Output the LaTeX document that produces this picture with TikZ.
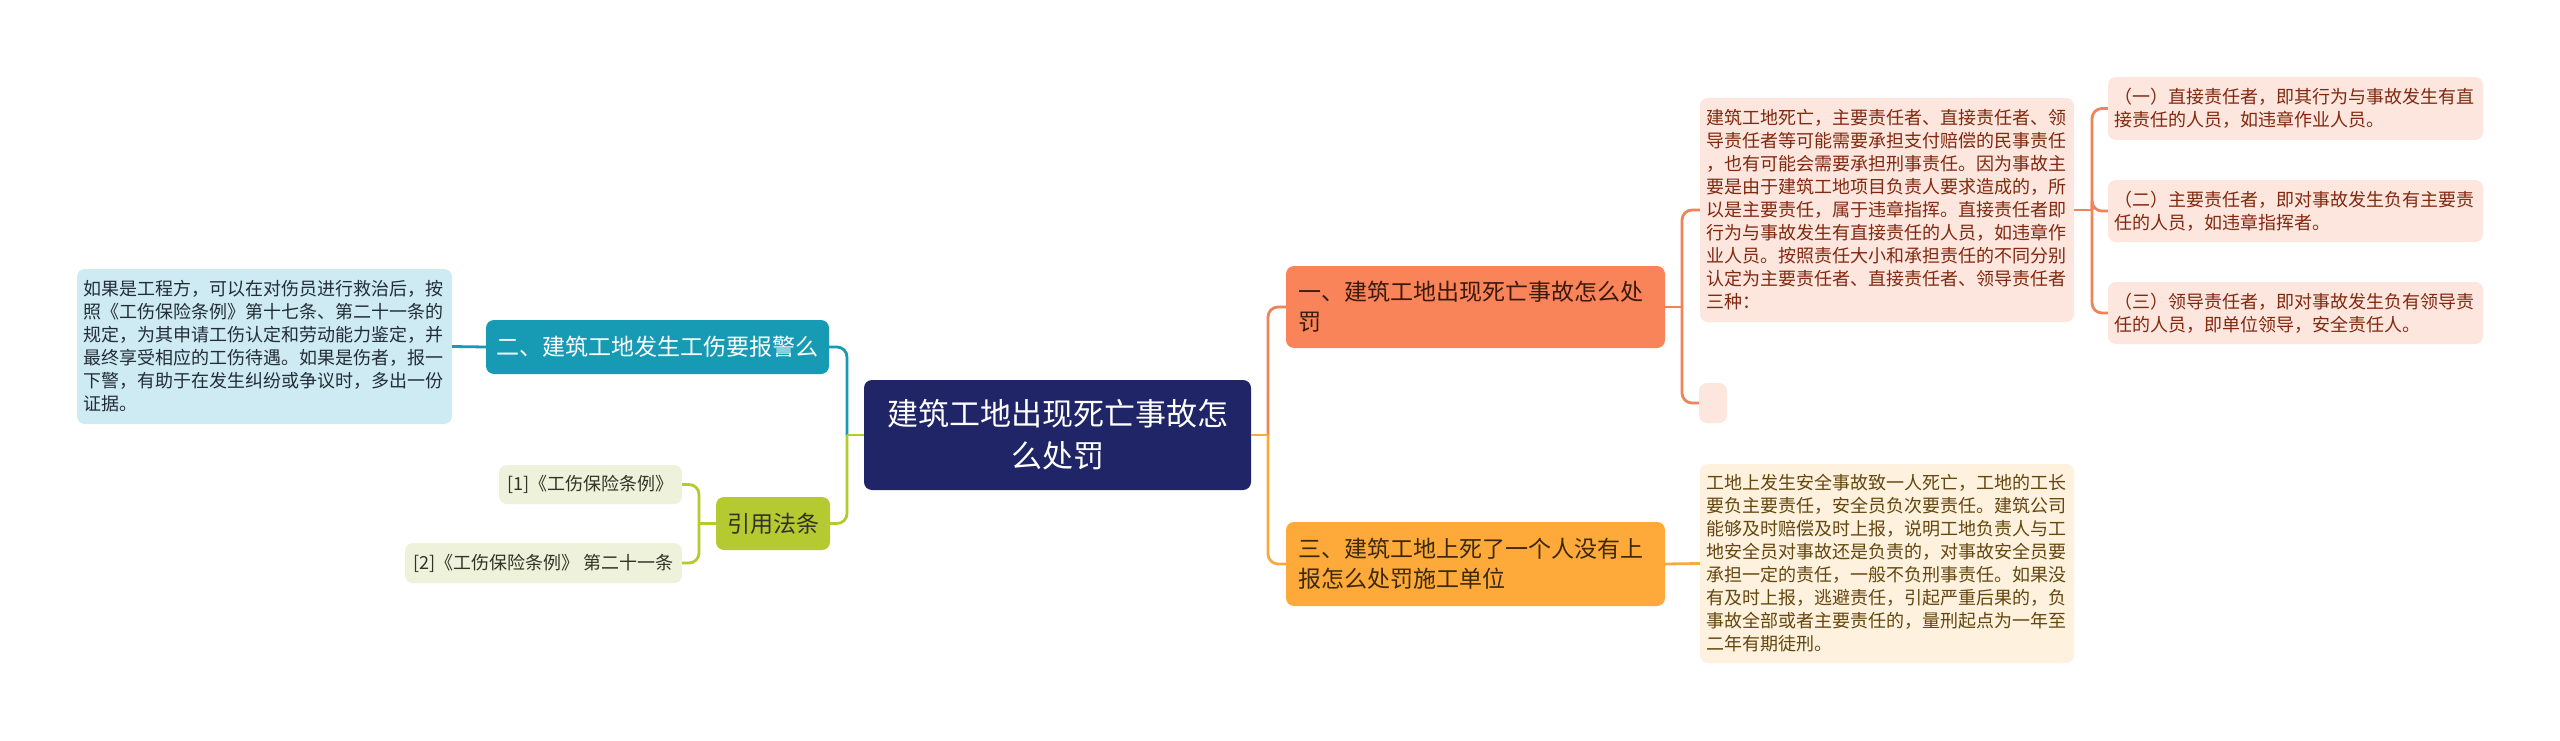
\documentclass[tikz,border=0pt]{standalone}
\usepackage{fontspec}
\newfontfamily\cjk{Noto Sans CJK SC}
\definecolor{navy}{RGB}{31,37,102}
\definecolor{teal2}{RGB}{23,155,181}
\definecolor{lblue}{RGB}{206,235,243}
\definecolor{lbluetxt}{RGB}{35,45,55}
\definecolor{gnode}{RGB}{181,201,48}
\definecolor{glight}{RGB}{238,242,218}
\definecolor{gtxt}{RGB}{50,50,40}
\definecolor{onode}{RGB}{249,132,90}
\definecolor{oline}{RGB}{240,131,88}
\definecolor{pinkbox}{RGB}{252,230,222}
\definecolor{pinktxt}{RGB}{130,40,15}
\definecolor{ynode}{RGB}{254,170,58}
\definecolor{yline}{RGB}{248,170,63}
\definecolor{creambox}{RGB}{254,241,222}
\definecolor{creamtxt}{RGB}{100,70,15}
\definecolor{otxt}{RGB}{60,25,10}
\definecolor{ytxt}{RGB}{60,40,10}
\begin{document}
\begin{tikzpicture}[x=1pt,y=-1pt,
  base/.style={rounded corners=8pt, inner sep=0pt, draw=none},
  smalltxt/.style={font={\cjk\fontsize{18}{23}\selectfont}},
  midtxt/.style={font={\cjk\fontsize{23}{30}\selectfont}},
  conn/.style={line width=2.8pt, rounded corners=10pt},
  tealc/.style={conn, draw=teal2},
  greenc/.style={conn, draw=gnode},
  orangec/.style={conn, draw=oline},
  yellowc/.style={conn, draw=yline}
]
\useasboundingbox (0,0) rectangle (2560,741);
\fill[white] (0,0) rectangle (2560,741);

% central
\node[base, fill=navy, text=white, minimum width=387pt, minimum height=110pt, align=center,
  font={\cjk\fontsize{31}{42}\selectfont}] (c) at (1057.5,435) {建筑工地出现死亡事故怎\\么处罚};

% left branch
\node[base, fill=teal2, text=white, midtxt, minimum width=343pt, minimum height=54pt] (n2) at (657.5,347) {二、建筑工地发生工伤要报警么};
\node[base, fill=lblue, text=lbluetxt, smalltxt, text width=362pt, inner xsep=6.5pt, minimum height=155pt, align=left] (lb) at (264.5,346.5)
 {如果是工程方，可以在对伤员进行救治后，按\\照《工伤保险条例》第十七条、第二十一条的\\规定，为其申请工伤认定和劳动能力鉴定，并\\最终享受相应的工伤待遇。如果是伤者，报一\\下警，有助于在发生纠纷或争议时，多出一份\\证据。};

\node[base, fill=gnode, text=gtxt, midtxt, minimum width=114pt, minimum height=53pt] (q) at (773,523.5) {引用法条};
\node[base, fill=glight, text=gtxt, smalltxt, minimum width=183pt, minimum height=39pt] (r1) at (590.5,484.5) {[1]《工伤保险条例》};
\node[base, fill=glight, text=gtxt, smalltxt, minimum width=277pt, minimum height=40pt] (r2) at (543.5,563) {[2]《工伤保险条例》 第二十一条};

% right branch
\node[base, fill=onode, text=otxt, midtxt, text width=355pt, inner xsep=12pt, minimum height=82pt, align=left] (n1) at (1475.5,307) {一、建筑工地出现死亡事故怎么处\\罚};
\node[base, fill=ynode, text=ytxt, midtxt, text width=355pt, inner xsep=12pt, minimum height=84pt, align=left] (n3) at (1475.5,564) {三、建筑工地上死了一个人没有上\\报怎么处罚施工单位};

\node[base, fill=pinkbox, text=pinktxt, smalltxt, text width=362pt, inner xsep=6pt, minimum height=224pt, align=left] (t1) at (1887,210)
 {建筑工地死亡，主要责任者、直接责任者、领\\导责任者等可能需要承担支付赔偿的民事责任\\，也有可能会需要承担刑事责任。因为事故主\\要是由于建筑工地项目负责人要求造成的，所\\以是主要责任，属于违章指挥。直接责任者即\\行为与事故发生有直接责任的人员，如违章作\\业人员。按照责任大小和承担责任的不同分别\\认定为主要责任者、直接责任者、领导责任者\\三种：};
\node[base, fill=pinkbox, minimum width=28pt, minimum height=40pt] (e1) at (1713,403) {};

\node[base, fill=pinkbox, text=pinktxt, smalltxt, text width=362pt, inner xsep=6.5pt, minimum height=63pt, align=left] (b1) at (2295.5,108.5) {（一）直接责任者，即其行为与事故发生有直\\接责任的人员，如违章作业人员。};
\node[base, fill=pinkbox, text=pinktxt, smalltxt, text width=362pt, inner xsep=6.5pt, minimum height=62pt, align=left] (b2) at (2295.5,211) {（二）主要责任者，即对事故发生负有主要责\\任的人员，如违章指挥者。};
\node[base, fill=pinkbox, text=pinktxt, smalltxt, text width=362pt, inner xsep=6.5pt, minimum height=62pt, align=left] (b3) at (2295.5,313) {（三）领导责任者，即对事故发生负有领导责\\任的人员，即单位领导，安全责任人。};

\node[base, fill=creambox, text=creamtxt, smalltxt, text width=362pt, inner xsep=6pt, minimum height=199pt, align=left] (t3) at (1887,563.5)
 {工地上发生安全事故致一人死亡，工地的工长\\要负主要责任，安全员负次要责任。建筑公司\\能够及时赔偿及时上报，说明工地负责人与工\\地安全员对事故还是负责的，对事故安全员要\\承担一定的责任，一般不负刑事责任。如果没\\有及时上报，逃避责任，引起严重后果的，负\\事故全部或者主要责任的，量刑起点为一年至\\二年有期徒刑。};

% junction coordinates
\coordinate (jl) at (847,435);
\coordinate (jr) at (1268,435);
\coordinate (jq) at (699,523.5);
\coordinate (j1) at (1682,307);
\coordinate (j2) at (2092,210);

% connectors left
\draw[tealc] (jl) |- (n2.east);
\draw[greenc] (jl) |- (q.east);
\draw[greenc] (c.west) -- (jl);
\draw[tealc] (n2.west) -- (lb.east);
\draw[greenc] (q.west) -- (jq);
\draw[greenc] (jq) |- (r1.east);
\draw[greenc] (jq) |- (r2.east);

% connectors right
\draw[orangec] (jr) |- (n1.west);
\draw[yellowc] (jr) |- (n3.west);
\draw[yellowc] (c.east) -- (jr);
\draw[orangec] (n1.east) -- (j1);
\draw[orangec] (j1) |- (t1.west);
\draw[orangec] (j1) |- (e1.west);
\draw[orangec] (t1.east) -- (j2);
\draw[orangec] (j2) |- (b1.west);
\draw[orangec] (j2) |- (b2.west);
\draw[orangec] (j2) |- (b3.west);
\draw[yellowc] (n3.east) -- (t3.west);
\end{tikzpicture}
\end{document}
